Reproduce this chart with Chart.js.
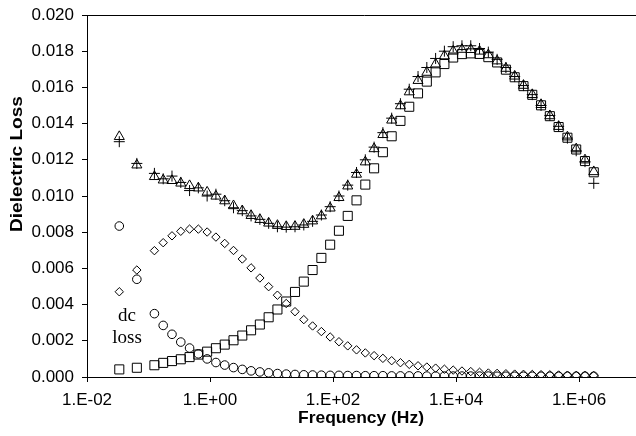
<!DOCTYPE html>
<html><head><meta charset="utf-8">
<script src="https://cdn.jsdelivr.net/npm/chart.js@4/dist/chart.umd.min.js"></script>
<style>html,body{margin:0;padding:0;background:#fff;overflow:hidden}
canvas{display:block}</style>
</head><body><canvas id="c" width="648" height="436" style="width:648px;height:436px"></canvas>
<script>
const freqHz = [0.0335, 0.0646,
  0.1247, 0.1733, 0.2408, 0.3347, 0.465, 0.6461, 0.8977,
  1.247, 1.733, 2.408, 3.347, 4.65, 6.461, 8.977,
  12.47, 17.33, 24.08, 33.47, 46.5, 64.61, 89.77,
  124.7, 173.3, 240.8, 334.7, 465, 646.1, 897.7,
  1247, 1733, 2408, 3347, 4650, 6461, 8977,
  12470, 17330, 24080, 33470, 46500, 64610, 89770,
  124700, 173300, 240800, 334700, 465000, 646100, 897700,
  1247000, 1733000];
const lossTriangle = [0.01328, 0.01171, 0.01107, 0.01088, 0.01085, 0.01071, 0.01057, 0.01044, 0.01021, 0.00999,
  0.00973, 0.00946, 0.00918, 0.00892, 0.00870, 0.00850, 0.00837, 0.00831, 0.00832, 0.00843,
  0.00862, 0.00890, 0.00933, 0.00991, 0.01055, 0.01120, 0.01188, 0.01261, 0.01339, 0.01419,
  0.01498, 0.01575, 0.01638, 0.01683, 0.01729, 0.01774, 0.01800, 0.01810, 0.01809, 0.01800,
  0.01780, 0.01746, 0.01705, 0.01662, 0.01611, 0.01560, 0.01505, 0.01443, 0.01384, 0.01326,
  0.01260, 0.01199, 0.01134];
const lossPlus = [0.01300, 0.01180, 0.01125, 0.01095, 0.01110, 0.01075, 0.01030, 0.01045, 0.01000, 0.01010,
  0.00974, 0.00935, 0.00919, 0.00890, 0.00871, 0.00849, 0.00830, 0.00828, 0.00830, 0.00840,
  0.00860, 0.00895, 0.00941, 0.01000, 0.01060, 0.01130, 0.01200, 0.01270, 0.01350, 0.01430,
  0.01510, 0.01590, 0.01660, 0.01710, 0.01760, 0.01800, 0.01825, 0.01830, 0.01830, 0.01815,
  0.01795, 0.01755, 0.01710, 0.01660, 0.01610, 0.01560, 0.01500, 0.01445, 0.01385, 0.01320,
  0.01250, 0.01190, 0.01070];
const lossSquare = [0.00042, 0.00051, 0.00065, 0.00078, 0.00088, 0.00098, 0.00110, 0.00124, 0.00140, 0.00159,
  0.00179, 0.00203, 0.00229, 0.00258, 0.00290, 0.00330, 0.00373, 0.00417, 0.00470, 0.00527,
  0.00591, 0.00658, 0.00731, 0.00808, 0.00890, 0.00976, 0.01063, 0.01153, 0.01242, 0.01330,
  0.01415, 0.01493, 0.01567, 0.01632, 0.01683, 0.01729, 0.01765, 0.01784, 0.01788, 0.01785,
  0.01767, 0.01738, 0.01698, 0.01656, 0.01607, 0.01559, 0.01501, 0.01441, 0.01381, 0.01322,
  0.01257, 0.01193, 0.01131];
const lossDiamond = [0.00471, 0.00591, 0.00698, 0.00742, 0.00780, 0.00805, 0.00817, 0.00817, 0.00801, 0.00773,
  0.00738, 0.00699, 0.00652, 0.00603, 0.00547, 0.00499, 0.00452, 0.00406, 0.00361, 0.00317,
  0.00282, 0.00251, 0.00221, 0.00195, 0.00172, 0.00150, 0.00133, 0.00118, 0.00103, 0.00090,
  0.00079, 0.00070, 0.00062, 0.00055, 0.00049, 0.00043, 0.00038, 0.00033, 0.00030, 0.00026,
  0.00022, 0.00020, 0.00018, 0.00016, 0.00015, 0.00014, 0.00013, 0.00012, 0.00011, 0.00010,
  0.00009, 0.00009, 0.00008];
const lossCircle = [0.00834, 0.00540, 0.00350, 0.00285, 0.00236, 0.00193, 0.00160, 0.00128, 0.00100, 0.00080,
  0.00066, 0.00052, 0.00042, 0.00034, 0.00028, 0.00023, 0.00019, 0.00016, 0.00014, 0.00012,
  0.00011, 0.00010, 0.00009, 0.00009, 0.00008, 0.00008, 0.00007, 0.00007, 0.00007, 0.00006,
  0.00006, 0.00006, 0.00006, 0.00005, 0.00005, 0.00005, 0.00005, 0.00005, 0.00005, 0.00005,
  0.00005, 0.00004, 0.00004, 0.00004, 0.00004, 0.00004, 0.00004, 0.00004, 0.00004, 0.00004,
  0.00004, 0.00004, 0.00004];
const xTickValues = [1e-2, 1e0, 1e2, 1e4, 1e6];
const xTickLabels = ["1.E-02", "1.E+00", "1.E+02", "1.E+04", "1.E+06"];
const yMin = 0, yMax = 0.02, yStep = 0.002;

function pts(arr) { return arr.map((v, i) => ({ x: freqHz[i], y: v })); }
const sans = '"Liberation Sans", Arial, sans-serif';

function stretchedText(ctx, text, x, y, targetWidth) {
  const w = ctx.measureText(text).width;
  ctx.save();
  ctx.translate(x, y);
  ctx.scale(targetWidth / w, 1);
  ctx.fillText(text, 0, 0);
  ctx.restore();
}

const textPlugin = {
  id: 'texts',
  afterDraw(chart) {
    const ctx = chart.ctx;
    ctx.save();
    ctx.fillStyle = '#000';
    ctx.textAlign = 'center';
    ctx.textBaseline = 'middle';
    ctx.font = 'bold 17px ' + sans;
    stretchedText(ctx, 'Frequency (Hz)', 361, 418, 126);
    ctx.save();
    ctx.translate(17, 164);
    ctx.rotate(-Math.PI / 2);
    stretchedText(ctx, 'Dielectric Loss', 0, 0, 136);
    ctx.restore();
    ctx.font = '19px "Liberation Serif", "Times New Roman", serif';
    ctx.fillText('dc', 127, 316);
    ctx.fillText('loss', 127, 338);
    ctx.restore();
  }
};

const common = { showLine: false, borderColor: '#000', backgroundColor: 'rgba(0,0,0,0)', borderWidth: 1, pointBorderColor: '#000', pointBackgroundColor: 'rgba(0,0,0,0)', pointBorderWidth: 1 };

new Chart(document.getElementById('c'), {
  type: 'scatter',
  data: {
    datasets: [
      Object.assign({ label: 'circle', data: pts(lossCircle), pointStyle: 'circle', pointRadius: 4.3 }, common),
      Object.assign({ label: 'diamond', data: pts(lossDiamond), pointStyle: 'rectRot', pointRadius: 4.2 }, common),
      Object.assign({ label: 'square', data: pts(lossSquare), pointStyle: 'rect', pointRadius: 6.4 }, common),
      Object.assign({ label: 'triangle', data: pts(lossTriangle), pointStyle: 'triangle', pointRadius: 5.8 }, common),
      Object.assign({ label: 'plus', data: pts(lossPlus), pointStyle: 'cross', pointRadius: 5.5 }, common)
    ]
  },
  options: {
    responsive: false,
    animation: false,
    devicePixelRatio: 1,
    layout: { padding: { top: 15, right: 0, left: 0, bottom: 0 } },
    plugins: { legend: { display: false }, tooltip: { enabled: false }, title: { display: false } },
    scales: {
      x: {
        type: 'logarithmic', position: 'bottom', min: 0.01, max: 1e7,
        afterBuildTicks: s => { s.ticks = xTickValues.map(v => ({ value: v })); },
        afterFit: s => { s.height = 59; s.paddingLeft = 0; s.paddingRight = 0; },
        ticks: {
          callback: (v) => { const i = xTickValues.findIndex(t => Math.abs(Math.log10(t) - Math.log10(v)) < 1e-6); return i >= 0 ? xTickLabels[i] : ''; },
          font: { family: sans, size: 17 }, color: '#000', maxRotation: 0, minRotation: 0, autoSkip: false, padding: 8
        },
        grid: { display: true, drawOnChartArea: false, drawTicks: true, tickLength: 5, tickColor: '#000', color: 'rgba(0,0,0,0)' },
        border: { display: true, color: '#000', width: 1 }
      },
      y: {
        min: yMin, max: yMax,
        afterFit: s => { s.width = 87; s.paddingTop = 0; s.paddingBottom = 0; },
        ticks: {
          stepSize: yStep,
          callback: v => Number(v).toFixed(3),
          font: { family: sans, size: 17 }, color: '#000', padding: 8
        },
        grid: {
          display: true, drawOnChartArea: true, drawTicks: true, tickLength: 5, tickColor: '#000',
          color: c => (c.tick && Math.abs(c.tick.value - yMax) < 1e-9) ? '#000' : 'rgba(0,0,0,0)'
        },
        border: { display: true, color: '#000', width: 1 }
      }
    }
  },
  plugins: [textPlugin]
});
</script></body></html>
